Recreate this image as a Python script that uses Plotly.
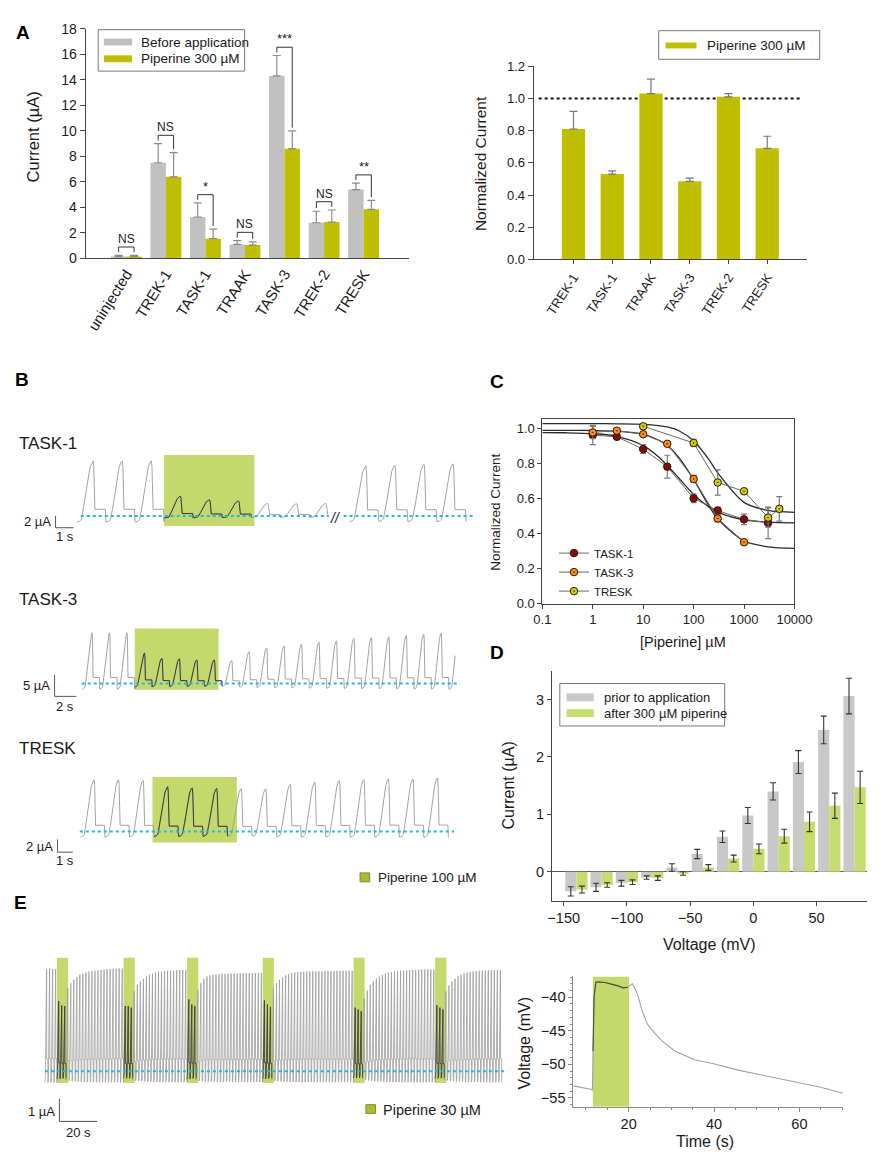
import plotly.graph_objects as go

W, H = 892, 1161
FONT = "Liberation Sans, Arial, Helvetica, sans-serif"
TXT = "#1a1a1a"
AXC = "#444444"
GRAY = "#c0c0c0"
OLIVE = "#bfbf00"
LIME = "#c3d96b"
TRACE = "#a3a3a3"
DARK = "#3a3a3a"
BLUE = "#2cb3e6"

# ---------------- Panel A data ----------------
a_channels = ["uninjected", "TREK-1", "TASK-1", "TRAAK", "TASK-3", "TREK-2", "TRESK"]
a_before = [0.15, 7.5, 3.25, 1.1, 14.3, 2.8, 5.4]
a_before_err = [0.1, 1.5, 1.1, 0.3, 1.6, 0.9, 0.5]
a_pip = [0.15, 6.4, 1.55, 1.05, 8.6, 2.85, 3.85]
a_pip_err = [0.1, 1.9, 0.75, 0.25, 1.4, 0.95, 0.7]
a_sig = ["NS", "NS", "*", "NS", "***", "NS", "**"]

an_channels = ["TREK-1", "TASK-1", "TRAAK", "TASK-3", "TREK-2", "TRESK"]
an_norm = [0.81, 0.53, 1.03, 0.485, 1.01, 0.69]
an_norm_err = [0.11, 0.02, 0.09, 0.02, 0.02, 0.075]

# ---------------- Panel B data (sweep peak currents, µA) ----------------
b_period_s = 1.6
b_task1_pre = [9.3, 9.3, 9.3, 3.3, 2.7, 2.5, 2.1, 2.05, 2.1]
b_task1_post = [8.45, 8.6, 8.7, 8.8]
b_task1_pip = (3, 6)
b_task3 = [11.7, 11.7, 11.7, 7.0, 5.8, 5.7, 5.45, 5.45, 5.3, 7.35, 8.2, 8.7, 9.1,
           9.5, 9.85, 10.4, 10.6, 10.75, 11.1, 11.4, 11.6, 11.7]
b_task3_pip = (3, 8)
b_tresk = [8.1, 8.1, 7.95, 7.0, 6.8, 6.7, 6.65, 6.65, 7.35, 7.7, 7.95, 8.1, 8.2, 8.2, 8.35]
b_tresk_pip = (3, 6)

# one sweep of the voltage-ramp protocol (fraction of period, fraction of peak)
sweep_phase = [0.00, 0.08, 0.16, 0.25, 0.35, 0.45, 0.52, 0.56, 0.58, 0.61, 0.62, 0.98, 0.99, 1.0]
sweep_shape = [-0.11, -0.10, -0.06, 0.2, 0.55, 0.88, 0.98, 1.0, 0.9, 0.12, 0.12, 0.12, -0.11, -0.11]

# ---------------- Panel C data ----------------
c_task1_x = [1, 3, 10, 30, 100, 300, 1000, 3000]
c_task1_y = [0.96, 0.95, 0.88, 0.78, 0.60, 0.53, 0.48, 0.46]
c_task1_err = [0.055, 0.01, 0.025, 0.065, 0.025, 0.02, 0.03, 0.09]
c_task3_x = [1, 3, 10, 30, 100, 300, 1000]
c_task3_y = [0.975, 0.985, 0.965, 0.91, 0.71, 0.485, 0.35]
c_task3_err = [0.035, 0.005, 0.008, 0.01, 0.02, 0.02, 0.015]
c_tresk_x = [10, 100, 300, 1000, 3000, 5000]
c_tresk_y = [1.01, 0.915, 0.69, 0.64, 0.49, 0.54]
c_tresk_err = [0.015, 0.02, 0.072, 0.01, 0.055, 0.07]
c_fit_x = [0.1, 0.3, 1, 3, 10, 20, 30, 50, 100, 200, 300, 1000, 3000, 10000]
c_fit_task1 = [0.974, 0.973, 0.968, 0.953, 0.900, 0.837, 0.787, 0.717, 0.622, 0.551, 0.521, 0.477, 0.464, 0.460]
c_fit_task3 = [0.987, 0.987, 0.986, 0.982, 0.964, 0.932, 0.900, 0.836, 0.707, 0.558, 0.483, 0.357, 0.324, 0.315]
c_fit_tresk = [1.025, 1.025, 1.025, 1.024, 1.021, 1.014, 1.006, 0.986, 0.927, 0.821, 0.745, 0.577, 0.531, 0.520]

# ---------------- Panel D data ----------------
d_voltage = [-140, -120, -100, -80, -60, -40, -20, 0, 20, 40, 60, 80]
d_prior = [-0.34, -0.27, -0.2, -0.1, 0.075, 0.31, 0.61, 0.98, 1.4, 1.91, 2.47, 3.06]
d_prior_err = [0.08, 0.07, 0.05, 0.03, 0.065, 0.08, 0.1, 0.14, 0.15, 0.2, 0.24, 0.31]
d_after = [-0.31, -0.23, -0.18, -0.11, -0.03, 0.075, 0.23, 0.4, 0.62, 0.87, 1.15, 1.47]
d_after_err = [0.06, 0.04, 0.04, 0.04, 0.03, 0.05, 0.06, 0.085, 0.12, 0.17, 0.22, 0.28]

# ---------------- Panel E data ----------------
e_pre = [4.5, 4.52, 4.5, 4.5]
e_pip = [[3.09, 2.9, 2.87], [2.87, 2.87, 2.8], [3.16, 2.94, 2.87],
         [3.12, 2.94, 2.83], [2.8, 2.72, 2.65], [2.9, 2.8, 2.72]]
e_rec = [
    [3.67, 3.88, 4.03, 4.14, 4.25, 4.3, 4.35, 4.39, 4.42, 4.43, 4.45, 4.46, 4.48, 4.49, 4.49, 4.51, 4.51, 4.52, 4.52],
    [3.52, 3.81, 3.96, 4.07, 4.17, 4.25, 4.3, 4.35, 4.38, 4.39, 4.41, 4.42, 4.43, 4.43, 4.45, 4.45, 4.46, 4.46],
    [3.59, 3.88, 4.07, 4.17, 4.22, 4.25, 4.26, 4.28, 4.29, 4.29, 4.3, 4.3, 4.31, 4.31, 4.31, 4.32, 4.32, 4.32, 4.32, 4.33, 4.33, 4.33],
    [3.67, 3.88, 4.03, 4.13, 4.22, 4.28, 4.32, 4.35, 4.36, 4.38, 4.38, 4.39, 4.39, 4.4, 4.4, 4.4, 4.4, 4.41, 4.41, 4.41, 4.41, 4.41, 4.42, 4.42, 4.42, 4.42, 4.42],
    [3.2, 3.55, 3.8, 3.95, 4.08, 4.17, 4.24, 4.3, 4.34, 4.37, 4.4, 4.42, 4.43, 4.44, 4.45, 4.46, 4.46, 4.47, 4.47, 4.48, 4.48, 4.48, 4.48, 4.48],
    [3.52, 3.78, 3.95, 4.08, 4.18, 4.25, 4.3, 4.34, 4.37, 4.39, 4.41, 4.42, 4.43, 4.44, 4.45, 4.45, 4.46, 4.46, 4.46],
]
e_time = [7.05, 9.0, 11.1, 11.5, 11.65, 11.9, 12.3, 12.7, 14.5, 16.0, 17.5, 18.7, 19.8, 20.4, 20.85,
          21.4, 22.1, 23.25, 24.4, 25.9, 27.8, 30.8, 35.4, 39.9, 45.9, 52.8, 60.4, 65.0, 70.2]
e_volt = [-53.2, -53.4, -53.7, -53.8, -48.0, -40.0, -37.8, -37.7, -37.8, -38.0, -38.3, -38.6, -38.5, -38.2, -38.0,
          -38.6, -39.6, -42.2, -44.0, -45.2, -46.5, -48.0, -49.3, -49.9, -50.9, -51.8, -52.8, -53.4, -54.3]
e_pip_window = [11.6, 20.1]

# =====================================================================
fig = go.Figure()
shapes, annotations, axes = [], [], {}


def P(x, y):
    return x / W, 1 - y / H


def text(x, y, s, size=13, xa="center", ya="middle", angle=0, color=TXT, bold=False):
    px, py = P(x, y)
    annotations.append(dict(x=px, y=py, xref="paper", yref="paper",
                            text=f"<b>{s}</b>" if bold else s, showarrow=False,
                            xanchor=xa, yanchor=ya, textangle=angle,
                            font=dict(family=FONT, size=size, color=color)))


def prect(x0, y0, x1, y1, fill, line=None, lw=1):
    shapes.append(dict(type="rect", xref="paper", yref="paper",
                       x0=x0 / W, x1=x1 / W, y0=1 - y1 / H, y1=1 - y0 / H,
                       fillcolor=fill, line=dict(color=line or fill, width=lw if line else 0)))


def set_axes(i, xa, ya):
    kx = "xaxis" if i == 1 else f"xaxis{i}"
    ky = "yaxis" if i == 1 else f"yaxis{i}"
    xa["anchor"] = "y" if i == 1 else f"y{i}"
    ya["anchor"] = "x" if i == 1 else f"x{i}"
    axes[kx] = xa
    axes[ky] = ya


def ref(i):
    return ("x", "y") if i == 1 else (f"x{i}", f"y{i}")


def dx(x0, x1):
    return [x0 / W, x1 / W]


def dy(y0, y1):
    return [1 - y1 / H, 1 - y0 / H]


def style(**kw):
    d = dict(showline=True, linecolor=AXC, linewidth=1, ticks="outside", ticklen=5,
             tickcolor=AXC, tickfont=dict(family=FONT, size=14, color=TXT),
             showgrid=False, zeroline=False, fixedrange=True)
    d.update(kw)
    return d


# ---------------- Panel A left ----------------
idx = list(range(len(a_channels)))
BW = 0.39
fig.add_trace(go.Bar(x=idx, y=a_before, width=BW, offset=-BW, marker=dict(color=GRAY, line=dict(width=0)),
                     error_y=dict(type="data", symmetric=False, array=a_before_err, arrayminus=[0] * 7,
                                  color="#8a8a8a", thickness=1.2, width=4),
                     xaxis="x", yaxis="y", showlegend=False, hoverinfo="skip"))
fig.add_trace(go.Bar(x=idx, y=a_pip, width=BW, offset=0, marker=dict(color=OLIVE, line=dict(width=0)),
                     error_y=dict(type="data", symmetric=False, array=a_pip_err, arrayminus=[0] * 7,
                                  color="#8a8a8a", thickness=1.2, width=4),
                     xaxis="x", yaxis="y", showlegend=False, hoverinfo="skip"))
set_axes(1,
         style(domain=dx(79, 413), range=[-1.03, 7.16], tickvals=idx, ticktext=a_channels,
               tickangle=-58, ticks="", tickfont=dict(family=FONT, size=15, color=TXT)),
         style(domain=dy(21, 254), range=[0, 18], dtick=2))
for i in idx:
    xg, xp = i - BW / 2, i + BW / 2
    tg = a_before[i] + a_before_err[i]
    tp = a_pip[i] + a_pip_err[i]
    top = max(tg, tp) + 0.65
    shapes.append(dict(type="path", xref="x", yref="y",
                       path=f"M{xg},{tg + 0.25} L{xg},{top} L{xp},{top} L{xp},{tp + 0.25}",
                       line=dict(color="#333", width=1)))
    annotations.append(dict(x=i, y=top, xref="x", yref="y", text=a_sig[i], showarrow=False,
                            yanchor="bottom", yshift=-1,
                            font=dict(family=FONT, size=12 if a_sig[i] == "NS" else 13, color=TXT)))
# legend A left
prect(92, 22, 243, 64, "white", "#777", 1)
prect(98, 31, 127, 38, GRAY)
prect(98, 48, 127, 55, OLIVE)
text(134, 35, "Before application", 13.5, xa="left")
text(134, 51.5, "Piperine 300 µM", 13.5, xa="left")
text(25, 131, "Current (µA)", 16.5, angle=-90)

# ---------------- Panel A right ----------------
idx2 = list(range(len(an_channels)))
fig.add_trace(go.Bar(x=idx2, y=an_norm, width=0.6, offset=-0.3, marker=dict(color=OLIVE, line=dict(width=0)),
                     error_y=dict(type="data", symmetric=False, array=an_norm_err, arrayminus=[0] * 6,
                                  color="#777", thickness=1.2, width=4),
                     xaxis="x2", yaxis="y2", showlegend=False, hoverinfo="skip"))
set_axes(2,
         style(domain=dx(541, 823), range=[-1.03, 6.03], tickvals=idx2, ticktext=an_channels,
               tickangle=-57, ticklen=4, tickfont=dict(family=FONT, size=13, color=TXT)),
         style(domain=dy(59, 255), range=[0, 1.2], dtick=0.2, tickformat=".1f",
               tickfont=dict(family=FONT, size=13, color=TXT)))
shapes.append(dict(type="line", xref="x2", yref="y2", x0=-0.9, x1=5.85, y0=1.0, y1=1.0,
                   line=dict(color="#111", width=2, dash="dot"), layer="below"))
prect(670, 23, 836, 52, "white", "#777", 1)
prect(677, 35, 709, 41, OLIVE)
text(718, 38, "Piperine 300 µM", 13.5, xa="left")
text(487, 158, "Normalized Current", 15.5, angle=-90)

# ---------------- Panel B ----------------
TRACE_AX = {}


def trace_axes(i, box, ox, sx, oy, sy):
    x0, y0, x1, y1 = box
    xa = dict(domain=dx(x0, x1), range=[(x0 - ox) / sx, (x1 - ox) / sx], visible=False, fixedrange=True)
    ya = dict(domain=dy(y0, y1), range=[(oy - y1) / sy, (oy - y0) / sy], visible=False, fixedrange=True)
    set_axes(i, xa, ya)
    TRACE_AX[i] = (ox, sx, oy, sy)


def tx(i, px):
    ox, sx, _, _ = TRACE_AX[i]
    return (px - ox) / sx


def ty(i, py):
    _, _, oy, sy = TRACE_AX[i]
    return (oy - py) / sy


def sweeps(peaks, t0, period, stop=None):
    xs, ys = [], []
    for k, p in enumerate(peaks):
        for ph, v in zip(sweep_phase, sweep_shape):
            phase = k + ph
            if stop is not None and phase > stop:
                continue
            xs.append(t0 + phase * period)
            ys.append(v * p)
    return xs, ys


def add_sweeps(i, peaks, t0, period, pip_ranges, stop=None, width=1.0, color=TRACE):
    xr, yr = ref(i)
    xs, ys = sweeps(peaks, t0, period, stop)
    fig.add_trace(go.Scatter(x=xs, y=ys, mode="lines", line=dict(color=color, width=width),
                             xaxis=xr, yaxis=yr, showlegend=False, hoverinfo="skip"))
    ddx, ddy = [], []
    for a, b in pip_ranges:
        sx_, sy_ = sweeps(peaks[a:b], t0 + a * period, period)
        ddx += sx_ + [None]
        ddy += sy_ + [None]
    if ddx:
        fig.add_trace(go.Scatter(x=ddx, y=ddy, mode="lines", line=dict(color=DARK, width=width),
                                 xaxis=xr, yaxis=yr, showlegend=False, hoverinfo="skip"))


def pip_box(i, t0, period, a, b, pad0, pad1, ylo, yhi):
    xr, yr = ref(i)
    shapes.append(dict(type="rect", xref=xr, yref=yr, x0=t0 + (a + pad0) * period,
                       x1=t0 + (b + pad1) * period, y0=ylo, y1=yhi,
                       fillcolor=LIME, line=dict(width=0), layer="below"))


def baseline(i, px0, px1):
    xr, yr = ref(i)
    shapes.append(dict(type="line", xref=xr, yref=yr, x0=tx(i, px0), x1=tx(i, px1), y0=0, y1=0,
                       line=dict(color=BLUE, width=2, dash="dot"), layer="above"))


def scalebar(i, cx, cy, lx, ly):
    xr, yr = ref(i)
    x0, y0 = tx(i, cx), ty(i, cy)
    shapes.append(dict(type="path", xref=xr, yref=yr,
                       path=f"M{x0},{y0 + ly} L{x0},{y0} L{x0 + lx},{y0}",
                       line=dict(color="#555", width=1)))


per = b_period_s
# TASK-1
trace_axes(3, (0, 440, 490, 545), 70, 30 / per, 515, 6.0)
pip_box(3, 0, per, b_task1_pip[0], b_task1_pip[1], 0.0, 0.1, -1.7, 10.3)
add_sweeps(3, b_task1_pre, 0, per, [b_task1_pip], stop=8.62)
post_t0 = len(b_task1_pre) * per + 0.6
add_sweeps(3, b_task1_post, post_t0, per, [], stop=4.0)
baseline(3, 74, 330)
baseline(3, 345, 480)
scalebar(3, 48, 527, 1, 2)
text(337, 517, "<i>//</i>", 14, color="#222")
text(45, 521, "2 µA", 13, xa="right")
text(58, 536, "1 s", 13)
text(8, 442, "TASK-1", 17, xa="left")

# TASK-3
trace_axes(4, (0, 615, 490, 705), 75.7, 18 / per, 685, 4.4)
pip_box(4, 0, per, b_task3_pip[0], b_task3_pip[1], 0.0, -0.2, -1.4, 12.7)
add_sweeps(4, b_task3, 0, per, [b_task3_pip], stop=21.42)
baseline(4, 75, 465)
scalebar(4, 47, 698, 2, 5)
text(44, 687, "5 µA", 13, xa="right")
text(58, 708, "2 s", 13)
text(8, 600, "TASK-3", 17, xa="left")

# TRESK
trace_axes(5, (0, 770, 490, 870), 73.6, 25.3 / per, 835, 6.5)
pip_box(5, 0, per, b_tresk_pip[0], b_tresk_pip[1], -0.06, 0.38, -1.7, 8.5)
add_sweeps(5, b_tresk, 0, per, [b_tresk_pip])
baseline(5, 73, 459)
scalebar(5, 50, 856, 1, 2)
text(47, 850, "2 µA", 13, xa="right")
text(58, 864, "1 s", 13)
text(8, 751, "TRESK", 17, xa="left")

prect(362, 877, 372, 886, "#aabb38", "#7f8c25", 1)
text(378, 881.5, "Piperine 100 µM", 13.5, xa="left")

# ---------------- Panel C ----------------
for name, xs, ys, es, col, fit in [
    ("TASK-1", c_task1_x, c_task1_y, c_task1_err, "#8b0a0a", c_fit_task1),
    ("TASK-3", c_task3_x, c_task3_y, c_task3_err, "#ff8a1c", c_fit_task3),
    ("TRESK", c_tresk_x, c_tresk_y, c_tresk_err, "#cfcf10", c_fit_tresk),
]:
    fig.add_trace(go.Scatter(x=c_fit_x, y=fit, mode="lines",
                             line=dict(color="#2a2a2a", width=1.3, shape="spline", smoothing=0.8),
                             xaxis="x6", yaxis="y6", showlegend=False, hoverinfo="skip"))
    fig.add_trace(go.Scatter(x=xs, y=ys, mode="lines+markers", name=name,
                             line=dict(color="#6a6a5a", width=1),
                             marker=dict(symbol="circle-dot", size=7.5, color=col, line=dict(color="#2a1a00", width=1)),
                             error_y=dict(type="data", array=es, color="#7a7a7a", thickness=1.2, width=3),
                             xaxis="x6", yaxis="y6", showlegend=True, hoverinfo="skip"))
set_axes(6,
         style(domain=dx(550, 810), type="log", range=[-1, 4], mirror=True,
               tickvals=[0.1, 1, 10, 100, 1000, 10000], ticktext=["0.1", "1", "10", "100", "1000", "10000"],
               ticklen=4, tickfont=dict(family=FONT, size=13, color=TXT)),
         style(domain=dy(417, 604), range=[0, 1.05], dtick=0.2, tickformat=".1f", mirror=True,
               ticklen=4, tickfont=dict(family=FONT, size=13, color=TXT)))
text(502, 511, "Normalized Current", 13.5, angle=-90)
text(695, 643, "[Piperine] µM", 14.5)

# ---------------- Panel D ----------------
DW = 8.8
fig.add_trace(go.Bar(x=d_voltage, y=d_prior, width=DW, offset=-DW, marker=dict(color="#c8c8c8", line=dict(width=0)),
                     error_y=dict(type="data", array=d_prior_err, color="#333", thickness=1.1, width=3),
                     xaxis="x7", yaxis="y7", showlegend=False, hoverinfo="skip"))
fig.add_trace(go.Bar(x=d_voltage, y=d_after, width=DW, offset=0, marker=dict(color="#c5dd6f", line=dict(width=0)),
                     error_y=dict(type="data", array=d_after_err, color="#333", thickness=1.1, width=3),
                     xaxis="x7", yaxis="y7", showlegend=False, hoverinfo="skip"))
set_axes(7,
         style(domain=dx(560, 885), range=[-159.2, 90], tickvals=[-150, -100, -50, 0, 50], ticklen=4,
               tickfont=dict(family=FONT, size=14.5, color=TXT)),
         style(domain=dy(672, 905), range=[-0.5, 3.5], tickvals=[0, 1, 2, 3], ticklen=4,
               zeroline=True, zerolinecolor="#555", zerolinewidth=1,
               tickfont=dict(family=FONT, size=14.5, color=TXT)))
prect(568, 685, 738, 728, "white", "#777", 1)
prect(575, 695, 603, 703, "#c8c8c8")
prect(575, 711, 603, 719, "#c5dd6f")
text(612, 699, "prior to application", 13, xa="left")
text(612, 715, "after 300 µM piperine", 13, xa="left")
text(515, 788, "Current (µA)", 16, angle=-90)
text(722, 950, "Voltage (mV)", 16)

# ---------------- Panel E left ----------------
e_peaks, e_pip_ranges = list(e_pre), []
for grp, rec in zip(e_pip, e_rec):
    a = len(e_peaks)
    e_peaks += grp
    e_pip_ranges.append((a, len(e_peaks)))
    e_peaks += rec
trace_axes(8, (25, 945, 520, 1140), 37, 3.12 / per, 1078, 23.0)
for a, b in e_pip_ranges:
    pip_box(8, 0, per, a, b, 0.0, 0.7, -0.52, 5.0)
add_sweeps(8, e_peaks, 0, per, e_pip_ranges, width=0.8, color="#9c9c9c")
baseline(8, 37, 513)
scalebar(8, 52, 1129, 20, 1)
text(49, 1119, "1 µA", 13, xa="right")
text(72, 1140, "20 s", 13)
prect(368, 1112, 378, 1121, "#aabb38", "#7f8c25", 1)
text(384, 1117, "Piperine 30 µM", 14.5, xa="left")

# ---------------- Panel E right ----------------
shapes.append(dict(type="rect", xref="x9", yref="y9", x0=e_pip_window[0], x1=e_pip_window[1],
                   y0=-56.3, y1=-36.9, fillcolor=LIME, line=dict(width=0), layer="below"))
fig.add_trace(go.Scatter(x=e_time, y=e_volt, mode="lines", line=dict(color="#a0a0a0", width=1.1),
                         xaxis="x9", yaxis="y9", showlegend=False, hoverinfo="skip"))
in_t = [t for t in e_time if e_pip_window[0] <= t <= e_pip_window[1]]
in_v = [v for t, v in zip(e_time, e_volt) if e_pip_window[0] <= t <= e_pip_window[1]]
fig.add_trace(go.Scatter(x=in_t, y=in_v, mode="lines", line=dict(color="#4a4a3a", width=1.1),
                         xaxis="x9", yaxis="y9", showlegend=False, hoverinfo="skip"))
set_axes(9,
         style(domain=dx(582, 860), range=[7.05, 70.2], tickvals=[20, 40, 60], linecolor="#888",
               tickcolor="#888", ticklen=4, tickfont=dict(family=FONT, size=14.5, color=TXT),
               minor=dict(dtick=5, ticks="outside", ticklen=2, tickcolor="#888")),
         style(domain=dy(982, 1114), range=[-56.3, -36.9], tickvals=[-55, -50, -45, -40], linecolor="#888",
               tickcolor="#888", ticklen=4, tickfont=dict(family=FONT, size=14.5, color=TXT),
               minor=dict(dtick=1, ticks="outside", ticklen=2, tickcolor="#888")))
text(532, 1050, "Voltage (mV)", 16, angle=-90)
text(718, 1149, "Time (s)", 16)

# ---------------- panel letters ----------------
for letter, x, y in [("A", 14, 25), ("B", 13, 377), ("C", 503, 379), ("D", 503, 653), ("E", 12, 907)]:
    text(x, y, letter, 19, bold=True, color="#000")

fig.update_layout(
    width=W, height=H, autosize=False,
    margin=dict(l=0, r=0, t=0, b=0, pad=0),
    paper_bgcolor="white", plot_bgcolor="rgba(0,0,0,0)",
    font=dict(family=FONT, color=TXT),
    shapes=shapes, annotations=annotations,
    showlegend=True,
    legend=dict(x=562 / W, y=1 - 538 / H, xanchor="left", yanchor="top",
                bgcolor="rgba(0,0,0,0)", font=dict(family=FONT, size=11.5, color=TXT),
                itemwidth=30, tracegroupgap=0),
    hovermode=False,
    **axes,
)
fig.write_html("out.html", config={"displayModeBar": False},
               post_script="document.body.style.margin='0px';")
